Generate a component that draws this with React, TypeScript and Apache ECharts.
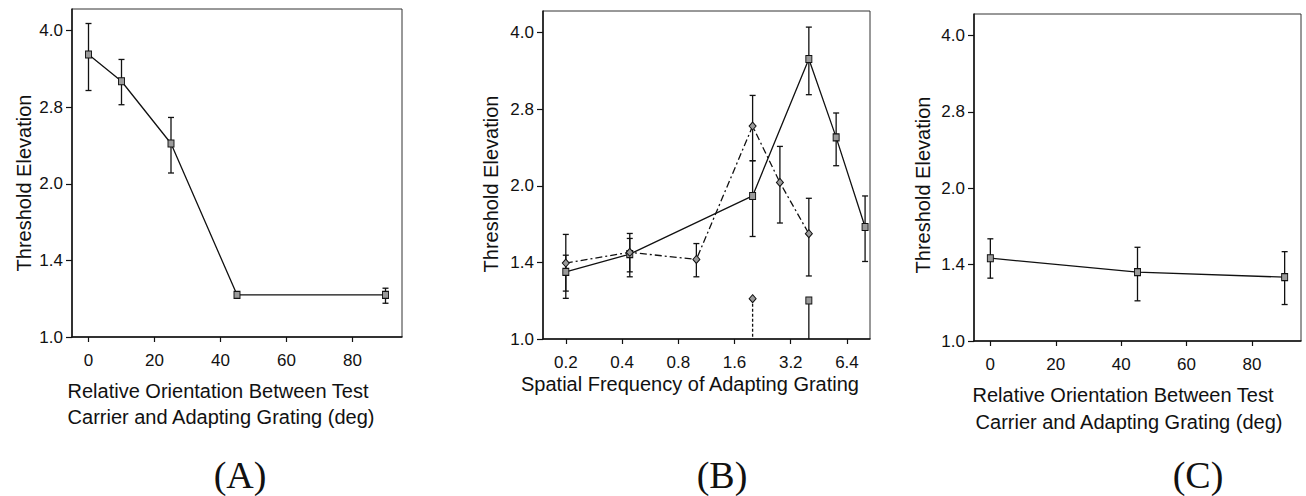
import React, { useEffect, useRef } from "react";
import * as echarts from "echarts";

// ---------- tick labels ----------
const yTickValues = [1.0, 1.4142, 2.0, 2.8284, 4.0];
const yTickLabels = ["1.0", "1.4", "2.0", "2.8", "4.0"];
const orientTicks = [0, 20, 40, 60, 80];
const freqTicks = [0.2, 0.4, 0.8, 1.6, 3.2, 6.4];
const freqTickLabels = ["0.2", "0.4", "0.8", "1.6", "3.2", "6.4"];

// ---------- panel A ----------
const aOrient = [0, 10, 25, 45, 90];
const aThresh = [3.59, 3.18, 2.4, 1.21, 1.21];
const aLow = [3.05, 2.86, 2.1, 1.205, 1.165];
const aHigh = [4.13, 3.51, 2.7, 1.215, 1.247];

// ---------- panel B ----------
const bFreqSolid = [0.2, 0.44, 2.0, 4.0, 5.6, 8.0];
const bThreshSolid = [1.355, 1.468, 1.91, 3.55, 2.49, 1.66];
const bLowSolid = [1.202, 1.325, 1.59, 3.02, 2.19, 1.42];
const bHighSolid = [1.461, 1.576, 2.24, 4.1, 2.78, 1.91];

const bFreqDash = [0.2, 0.44, 1.0, 2.0, 2.8, 4.0];
const bThreshDash = [1.41, 1.48, 1.433, 2.62, 2.03, 1.61];
const bLowDash = [1.242, 1.355, 1.325, 2.24, 1.69, 1.33];
const bHighDash = [1.605, 1.612, 1.54, 3.01, 2.39, 1.89];

const bFreqExtraDiamond = [2.0];
const bThreshExtraDiamond = [1.2];
const bLowExtraDiamond = [0.9];
const bFreqExtraSquare = [4.0];
const bThreshExtraSquare = [1.19];
const bLowExtraSquare = [0.9];

// ---------- panel C ----------
const cOrient = [0, 45, 90];
const cThresh = [1.456, 1.367, 1.336];
const cLow = [1.33, 1.2, 1.18];
const cHigh = [1.59, 1.53, 1.5];

const SANS = '"Liberation Sans", Arial, Helvetica, sans-serif';
const SERIF = '"Liberation Serif", "DejaVu Serif", serif';
const INK = "#111";
const Y_MAX = 4.41;

const lg = (v: number) => Math.log2(v);

function nearestLabel(tv: number[], labels: string[], v: number) {
  let best = 0;
  tv.forEach((t, i) => {
    if (Math.abs(t - v) < Math.abs(tv[best] - v)) best = i;
  });
  return labels[best];
}

function yAxisFor(grid: number) {
  const tv = yTickValues.map(lg);
  return {
    gridIndex: grid,
    type: "value",
    min: 0,
    max: lg(Y_MAX),
    axisLine: { show: true, onZero: false, lineStyle: { color: INK, width: 1.5 } },
    axisTick: { show: true, length: 6, customValues: tv, lineStyle: { color: INK, width: 1.2 } },
    axisLabel: {
      customValues: tv,
      fontSize: 17,
      fontFamily: SANS,
      color: INK,
      margin: 9,
      formatter: (v: number) => nearestLabel(tv, yTickLabels, v),
    },
    splitLine: { show: false },
  };
}

function orientAxis(grid: number) {
  return {
    gridIndex: grid,
    type: "value",
    min: -5,
    max: 95,
    axisLine: { show: true, onZero: false, lineStyle: { color: INK, width: 1.5 } },
    axisTick: { show: true, length: 5, customValues: orientTicks, lineStyle: { color: INK, width: 1.2 } },
    axisLabel: { customValues: orientTicks, fontSize: 17, fontFamily: SANS, color: INK, margin: 15 },
    splitLine: { show: false },
  };
}

function freqAxis(grid: number) {
  const tv = freqTicks.map(lg);
  return {
    gridIndex: grid,
    type: "value",
    min: lg(0.151),
    max: lg(8.5),
    axisLine: { show: true, onZero: false, lineStyle: { color: INK, width: 1.5 } },
    axisTick: { show: true, length: 5, customValues: tv, lineStyle: { color: INK, width: 1.2 } },
    axisLabel: {
      customValues: tv,
      fontSize: 17,
      fontFamily: SANS,
      color: INK,
      margin: 15,
      formatter: (v: number) => nearestLabel(tv, freqTickLabels, v),
    },
    splitLine: { show: false },
  };
}

function errorSeries(
  grid: number,
  xs: number[],
  lows: number[],
  highs: number[],
  xf: (v: number) => number,
  caps: boolean,
  dashed: boolean
) {
  return {
    type: "custom",
    xAxisIndex: grid,
    yAxisIndex: grid,
    clip: true,
    silent: true,
    z: 2,
    encode: { x: 0, y: [1, 2] },
    data: xs.map((x, i) => [xf(x), lg(lows[i]), lg(highs[i])]),
    renderItem: (params: any, api: any) => {
      const x = api.value(0);
      const lo = api.coord([x, api.value(1)]);
      const hi = api.coord([x, api.value(2)]);
      const w = 3;
      const st = { stroke: INK, lineWidth: 1.3, lineDash: dashed ? [3, 2] : null };
      const children: any[] = [
        { type: "line", shape: { x1: hi[0], y1: hi[1], x2: lo[0], y2: lo[1] }, style: st },
      ];
      if (caps) {
        children.push({ type: "line", shape: { x1: hi[0] - w, y1: hi[1], x2: hi[0] + w, y2: hi[1] }, style: { stroke: INK, lineWidth: 1.3 } });
        children.push({ type: "line", shape: { x1: lo[0] - w, y1: lo[1], x2: lo[0] + w, y2: lo[1] }, style: { stroke: INK, lineWidth: 1.3 } });
      }
      return { type: "group", children };
    },
  };
}

function lineSeries(
  grid: number,
  xs: number[],
  ys: number[],
  xf: (v: number) => number,
  symbol: string,
  dash: any,
  showLine = true
) {
  return {
    type: "line",
    xAxisIndex: grid,
    yAxisIndex: grid,
    data: xs.map((x, i) => [xf(x), lg(ys[i])]),
    symbol,
    symbolSize: symbol === "diamond" ? [7, 8] : [6, 7],
    itemStyle: { color: "#9a9a9a", borderColor: INK, borderWidth: 1 },
    lineStyle: { color: INK, width: showLine ? 1.3 : 0, type: dash, opacity: showLine ? 1 : 0 },
    z: 3,
    silent: true,
  };
}

const id = (v: number) => v;

export default function App() {
  const ref = useRef<HTMLDivElement>(null);

  useEffect(() => {
    if (!ref.current) return;
    const chart = echarts.init(ref.current, null, { renderer: "svg" });

    const text = (t: string, x: number, y: number, size: number, family: string, rot = 0) => ({
      type: "text",
      x,
      y,
      rotation: rot,
      silent: true,
      style: {
        text: t,
        fontSize: size,
        fontFamily: family,
        fill: INK,
        textAlign: "center",
        textVerticalAlign: "middle",
      },
    });

    const option: any = {
      animation: false,
      backgroundColor: "#ffffff",
      grid: [
        { left: 72, top: 9, width: 330, height: 328, show: true, borderColor: "#333", borderWidth: 1 },
        { left: 543, top: 11, width: 327, height: 328, show: true, borderColor: "#333", borderWidth: 1 },
        { left: 974, top: 14, width: 327, height: 327, show: true, borderColor: "#333", borderWidth: 1 },
      ],
      xAxis: [orientAxis(0), freqAxis(1), orientAxis(2)],
      yAxis: [yAxisFor(0), yAxisFor(1), yAxisFor(2)],
      series: [
        // A
        errorSeries(0, aOrient, aLow, aHigh, id, true, false),
        lineSeries(0, aOrient, aThresh, id, "rect", "solid"),
        // B
        errorSeries(1, bFreqSolid, bLowSolid, bHighSolid, lg, true, false),
        errorSeries(1, bFreqDash, bLowDash, bHighDash, lg, true, false),
        errorSeries(1, bFreqExtraDiamond, bLowExtraDiamond, bThreshExtraDiamond, lg, false, true),
        errorSeries(1, bFreqExtraSquare, bLowExtraSquare, bThreshExtraSquare, lg, false, false),
        lineSeries(1, bFreqSolid, bThreshSolid, lg, "rect", "solid"),
        lineSeries(1, bFreqDash, bThreshDash, lg, "diamond", [7, 3, 2, 3]),
        lineSeries(1, bFreqExtraDiamond, bThreshExtraDiamond, lg, "diamond", "solid", false),
        lineSeries(1, bFreqExtraSquare, bThreshExtraSquare, lg, "rect", "solid", false),
        // C
        errorSeries(2, cOrient, cLow, cHigh, id, true, false),
        lineSeries(2, cOrient, cThresh, id, "rect", "solid"),
      ],
      graphic: [
        text("Threshold Elevation", 24, 183, 20, SANS, Math.PI / 2),
        text("Threshold Elevation", 491, 184, 20, SANS, Math.PI / 2),
        text("Threshold Elevation", 923, 185, 20, SANS, Math.PI / 2),
        text("Relative Orientation Between Test", 218, 391, 20, SANS),
        text("Carrier and Adapting Grating (deg)", 221, 417, 20, SANS),
        text("Spatial Frequency of Adapting Grating", 690, 384, 20, SANS),
        text("Relative Orientation Between Test", 1123, 395, 20, SANS),
        text("Carrier and Adapting Grating (deg)", 1129, 422, 20, SANS),
        text("(A)", 240, 475, 38, SERIF),
        text("(B)", 722, 475, 38, SERIF),
        text("(C)", 1198, 475, 38, SERIF),
      ],
    };

    chart.setOption(option);
    return () => chart.dispose();
  }, []);

  return (
    <div
      ref={ref}
      style={{ position: "fixed", left: 0, top: 0, width: 1306, height: 496, background: "#fff" }}
    />
  );
}
